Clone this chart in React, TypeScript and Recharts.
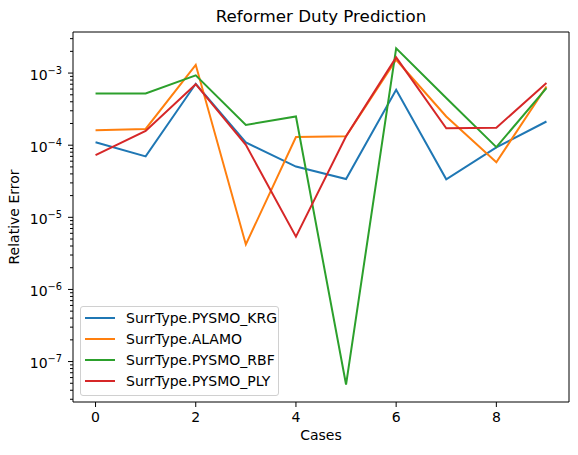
import React from 'react';
import { LineChart, Line, XAxis, YAxis, Legend, ReferenceLine } from 'recharts';

const CASES = [0, 1, 2, 3, 4, 5, 6, 7, 8, 9];
const KRG = [1.1e-4, 7.0e-5, 7.1e-4, 1.09e-4, 5.05e-5, 3.4e-5, 5.86e-4, 3.37e-5, 9.3e-5, 2.13e-4];
const ALAMO = [1.61e-4, 1.68e-4, 1.3e-3, 4.2e-6, 1.3e-4, 1.33e-4, 1.53e-3, 2.5e-4, 5.8e-5, 6.5e-4];
const RBF = [5.2e-4, 5.2e-4, 9.3e-4, 1.91e-4, 2.5e-4, 4.8e-8, 2.2e-3, 4.5e-4, 9.4e-5, 6.2e-4];
const PLY = [7.3e-5, 1.58e-4, 7.0e-4, 1.01e-4, 5.4e-6, 1.33e-4, 1.65e-3, 1.72e-4, 1.75e-4, 7.26e-4];

const SERIES = [
  { key: 'krg', name: 'SurrType.PYSMO_KRG', color: '#1f77b4', values: KRG },
  { key: 'alamo', name: 'SurrType.ALAMO', color: '#ff7f0e', values: ALAMO },
  { key: 'rbf', name: 'SurrType.PYSMO_RBF', color: '#2ca02c', values: RBF },
  { key: 'ply', name: 'SurrType.PYSMO_PLY', color: '#d62728', values: PLY },
];

const X_TICKS = [0, 2, 4, 6, 8];
const X_DOMAIN: [number, number] = [-0.45, 9.45];
const Y_DECADES = [-8, -7, -6, -5, -4, -3];
const Y_DOMAIN: [number, number] = [2.75e-8, 3.71e-3];

// major + minor ticks of a log axis, kept inside the domain
const Y_TICKS: number[] = [];
Y_DECADES.forEach((e) => {
  for (let m = 1; m <= 9; m++) {
    const v = m * Math.pow(10, e);
    if (v >= Y_DOMAIN[0] && v <= Y_DOMAIN[1]) Y_TICKS.push(v);
  }
});

const data = CASES.map((c, i) => {
  const row: Record<string, number> = { case: c };
  SERIES.forEach((s) => { row[s.key] = s.values[i]; });
  return row;
});

const FONT = '"DejaVu Sans", sans-serif';
const TICK_SIZE = 5;
const TICK_MARGIN = 5;

const YTick = (props: any) => {
  const { x, y, payload } = props;
  const v = payload.value;
  const lg = Math.log10(v);
  const major = Math.abs(lg - Math.round(lg)) < 1e-6;
  const axisX = x + TICK_SIZE + TICK_MARGIN;
  return (
    <g>
      <line x1={axisX - (major ? 5 : 3)} x2={axisX} y1={y} y2={y} stroke="#000" strokeWidth={1} />
      {major && (
        <text x={axisX - 11} y={y + 6.5} textAnchor="end" fontSize={14} fontFamily={FONT} fill="#000">
          10
          <tspan fontSize={9.8} dy={-6}>{'\u2212' + Math.abs(Math.round(lg))}</tspan>
        </text>
      )}
    </g>
  );
};

// legend keeps the plotting order
const LegendBox = () => (
  <div
    style={{
      border: '1px solid #d0d0d0',
      borderRadius: 3,
      background: 'rgba(255,255,255,0.8)',
      width: 197,
      height: 87,
      boxSizing: 'content-box',
      fontFamily: FONT,
      fontSize: 14,
      color: '#000',
      paddingTop: 1,
    }}
  >
    {SERIES.map((s) => (
      <div key={s.key} style={{ display: 'flex', alignItems: 'center', height: 20.8 }}>
        <div style={{ width: 30, height: 2, background: s.color, marginLeft: 4, marginRight: 11 }} />
        <span>{s.name}</span>
      </div>
    ))}
  </div>
);

export default function App() {
  return (
    <div style={{ position: 'absolute', left: 0, top: 0, width: 578, height: 455, background: '#fff' }}>
      <div
        style={{
          position: 'absolute', left: 73, width: 496, top: 6, textAlign: 'center',
          fontFamily: FONT, fontSize: 16.7, color: '#000',
        }}
      >
        Reformer Duty Prediction
      </div>
      <div
        style={{
          position: 'absolute', left: 73, width: 496, top: 427, textAlign: 'center',
          fontFamily: FONT, fontSize: 14, color: '#000',
        }}
      >
        Cases
      </div>
      <div style={{ position: 'absolute', left: 14, top: 217, width: 0, height: 0 }}>
        <div
          style={{
            position: 'absolute', left: -100, top: -9, width: 200, textAlign: 'center',
            transform: 'rotate(-90deg)', fontFamily: FONT, fontSize: 14, color: '#000', lineHeight: '18px',
          }}
        >
          Relative Error
        </div>
      </div>
      <LineChart
        width={578}
        height={455}
        data={data}
        margin={{ top: 32, right: 9, left: 13, bottom: 23 }}
        style={{ position: 'absolute', left: 0, top: 0 }}
      >
        <XAxis
          dataKey="case"
          type="number"
          domain={X_DOMAIN}
          ticks={X_TICKS}
          allowDataOverflow
          height={30}
          tickSize={TICK_SIZE}
          tickMargin={TICK_MARGIN}
          interval={0}
          axisLine={{ stroke: '#000' }}
          tickLine={{ stroke: '#000' }}
          tick={{ fill: '#000', fontSize: 14, fontFamily: FONT }}
        />
        <YAxis
          scale="log"
          type="number"
          domain={Y_DOMAIN}
          ticks={Y_TICKS}
          allowDataOverflow
          interval={0}
          width={60}
          tickSize={TICK_SIZE}
          tickMargin={TICK_MARGIN}
          tickLine={false}
          axisLine={{ stroke: '#000' }}
          tick={<YTick />}
        />
        {/* top and right spines */}
        <ReferenceLine y={Y_DOMAIN[1]} stroke="#000" strokeWidth={1} ifOverflow="extendDomain" />
        <ReferenceLine x={X_DOMAIN[1]} stroke="#000" strokeWidth={1} ifOverflow="extendDomain" />
        <Legend
          layout="vertical"
          align="center"
          verticalAlign="middle"
          content={<LegendBox />}
          wrapperStyle={{ left: 80, top: 306, width: 199, height: 89 }}
        />
        {SERIES.map((s) => (
          <Line
            key={s.key}
            dataKey={s.key}
            name={s.name}
            stroke={s.color}
            strokeWidth={2}
            type="linear"
            dot={false}
            activeDot={false}
            isAnimationActive={false}
          />
        ))}
      </LineChart>
    </div>
  );
}
